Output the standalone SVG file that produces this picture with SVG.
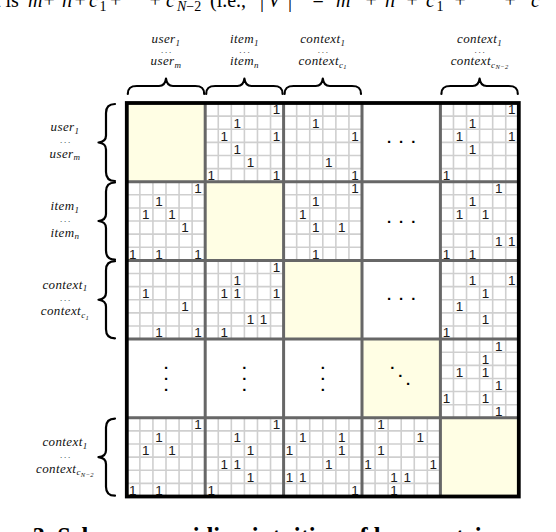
<svg xmlns="http://www.w3.org/2000/svg" xmlns:xlink="http://www.w3.org/1999/xlink" width="556" height="532" viewBox="0 0 556 532">
<style>
.lbl{font-family:"Liberation Serif",serif;font-style:italic;font-size:13px;fill:#111;text-anchor:middle;letter-spacing:0.4px}
.sub{font-size:9px}
.sub2{font-size:6.5px}
.ld{font-family:"Liberation Serif",serif;font-size:9px;fill:#222;text-anchor:middle;letter-spacing:1.8px}
.one{font-family:"Liberation Sans",Arial,sans-serif;font-size:13.5px;fill:#1a1a1a;text-anchor:middle}
.sg{fill:none;stroke:#cfcfcf;stroke-width:1.6}
.dv{stroke:#676767;stroke-width:3;fill:none}
.br{fill:none;stroke:#000;stroke-width:2.2;stroke-linecap:round;stroke-linejoin:round}
.diag{fill:#fffee4}
.el{font-family:"Liberation Sans",Arial,sans-serif;font-weight:bold;font-size:15px;fill:#000;text-anchor:middle}
.pg{font-family:"Liberation Serif",serif;font-size:20px;fill:#000}
.it{font-style:italic}
.cap{font-family:"Liberation Serif",serif;font-weight:bold;font-size:24.4px;fill:#000}
</style>
<defs>
<path id="sg" class="sg" d="M13.07 0V78.7M26.13 0V78.7M39.2 0V78.7M52.27 0V78.7M65.33 0V78.7M0 13.12H78.4M0 26.23H78.4M0 39.35H78.4M0 52.47H78.4M0 65.58H78.4"/>
</defs>
<rect width="556" height="532" fill="#fff"/>

<!-- page text fragments (cropped) -->
<text class="pg" y="7"><tspan x="-5">t is</tspan><tspan x="28" class="it">m</tspan><tspan x="43.4">+</tspan><tspan x="62" class="it">n</tspan><tspan x="74.4">+</tspan><tspan x="89" class="it">c</tspan><tspan x="99.5" dy="4" font-size="14">1</tspan><tspan x="109.9" dy="-4">+</tspan><tspan x="149.4">+</tspan><tspan x="166" class="it">c</tspan><tspan x="177" dy="4" font-size="14" class="it">N</tspan><tspan font-size="14">−2</tspan><tspan x="210" dy="-4">(i.e.,</tspan><tspan x="260">|</tspan><tspan x="268" class="it">V</tspan><tspan x="288">|</tspan><tspan x="312.4">=</tspan><tspan x="336" class="it">m</tspan><tspan x="365.4">+</tspan><tspan x="385" class="it">n</tspan><tspan x="406.4">+</tspan><tspan x="426" class="it">c</tspan><tspan x="436.5" dy="4" font-size="14">1</tspan><tspan x="454.4" dy="-4">+</tspan><tspan x="504.4">+</tspan><tspan x="531" class="it">c</tspan></text>
<text class="cap" x="-42" y="545">Figure 3. Schema providing intuition of how matrix</text>

<!-- column headers -->
<g id="hdr-user">
<text class="lbl" x="166" y="43">user<tspan class="sub" dy="2.5">1</tspan></text>
<text class="ld" x="167" y="53">...</text>
<text class="lbl" x="166" y="65">user<tspan class="sub" dy="2.5">m</tspan></text>
</g>
<g id="hdr-item">
<text class="lbl" x="244.4" y="43">item<tspan class="sub" dy="2.5">1</tspan></text>
<text class="ld" x="245.4" y="53">...</text>
<text class="lbl" x="244.4" y="65">item<tspan class="sub" dy="2.5">n</tspan></text>
</g>
<g id="hdr-ctx1">
<text class="lbl" x="322.8" y="43">context<tspan class="sub" dy="2.5">1</tspan></text>
<text class="ld" x="323.8" y="53">...</text>
<text class="lbl" x="322.8" y="65">context<tspan class="sub" dy="2.5">c</tspan><tspan class="sub2" dy="1.8">1</tspan></text>
</g>
<g id="hdr-ctxN">
<text class="lbl" x="479.6" y="43">context<tspan class="sub" dy="2.5">1</tspan></text>
<text class="ld" x="480.6" y="53">...</text>
<text class="lbl" x="479.6" y="65">context<tspan class="sub" dy="2.5">c</tspan><tspan class="sub2" dy="1.8">N−2</tspan></text>
</g>

<!-- row labels -->
<g id="row-user">
<text class="lbl" x="65" y="131.3">user<tspan class="sub" dy="2.5">1</tspan></text>
<text class="ld" x="66" y="143.3">...</text>
<text class="lbl" x="65" y="157.8">user<tspan class="sub" dy="2.5">m</tspan></text>
</g>
<g id="row-item">
<text class="lbl" x="65" y="210">item<tspan class="sub" dy="2.5">1</tspan></text>
<text class="ld" x="66" y="222">...</text>
<text class="lbl" x="65" y="236.5">item<tspan class="sub" dy="2.5">n</tspan></text>
</g>
<g id="row-ctx1">
<text class="lbl" x="65" y="288.7">context<tspan class="sub" dy="2.5">1</tspan></text>
<text class="ld" x="66" y="300.7">...</text>
<text class="lbl" x="65" y="315.2">context<tspan class="sub" dy="2.5">c</tspan><tspan class="sub2" dy="1.8">1</tspan></text>
</g>
<g id="row-ctxN">
<text class="lbl" x="65" y="446.1">context<tspan class="sub" dy="2.5">1</tspan></text>
<text class="ld" x="66" y="458.1">...</text>
<text class="lbl" x="65" y="472.6">context<tspan class="sub" dy="2.5">c</tspan><tspan class="sub2" dy="1.8">N−2</tspan></text>
</g>

<!-- braces -->
<g id="braces">
<path class="br" d="M127.8,94 C127.8,88 130.8,86 136.8,86 L159,86 C163,86 165.5,83 166,78.5 C166.5,83 169,86 173,86 L195.2,86 C201.2,86 204.2,88 204.2,94"/>
<path class="br" d="M206.2,94 C206.2,88 209.2,86 215.2,86 L237.4,86 C241.4,86 243.9,83 244.4,78.5 C244.9,83 247.4,86 251.4,86 L273.6,86 C279.6,86 282.6,88 282.6,94"/>
<path class="br" d="M284.6,94 C284.6,88 287.6,86 293.6,86 L315.8,86 C319.8,86 322.3,83 322.8,78.5 C323.3,83 325.8,86 329.8,86 L352,86 C358,86 361,88 361,94"/>
<path class="br" d="M441.4,94 C441.4,88 444.4,86 450.4,86 L472.6,86 C476.6,86 479.1,83 479.6,78.5 C480.1,83 482.6,86 486.6,86 L508.8,86 C514.8,86 517.8,88 517.8,94"/>
<path class="br" d="M115,104 C109,104 106,107 106,113 L106,135.5 C106,139.5 103,142 98.5,142.5 C103,143 106,145.5 106,149.5 L106,172 C106,178 109,181 115,181"/>
<path class="br" d="M115,182.5 C109,182.5 106,185.5 106,191.5 L106,214 C106,218 103,220.5 98.5,221 C103,221.5 106,224 106,228 L106,250.6 C106,256.6 109,259.6 115,259.6"/>
<path class="br" d="M115,261.2 C109,261.2 106,264.2 106,270.2 L106,292.75 C106,296.75 103,299.25 98.5,299.75 C103,300.25 106,302.75 106,306.75 L106,329.3 C106,335.3 109,338.3 115,338.3"/>
<path class="br" d="M115,418.6 C109,418.6 106,421.6 106,427.6 L106,450.15 C106,454.15 103,456.65 98.5,457.15 C103,457.65 106,460.15 106,464.15 L106,486.7 C106,492.7 109,495.7 115,495.7"/>
</g>

<!-- matrix background -->
<rect x="126.8" y="103" width="392" height="393.5" fill="#fff"/>

<!-- diagonal blocks -->
<g id="diag">
<rect class="diag" x="126.8" y="103" width="78.4" height="78.7"/>
<rect class="diag" x="205.2" y="181.7" width="78.4" height="78.7"/>
<rect class="diag" x="283.6" y="260.4" width="78.4" height="78.7"/>
<rect class="diag" x="362" y="339.1" width="78.4" height="78.7"/>
<rect class="diag" x="440.4" y="417.8" width="78.4" height="78.7"/>
</g>

<!-- sparse blocks -->
<g id="cell-r1c2" transform="translate(205.2,103)"><use xlink:href="#sg"/>
<text class="one" x="71.33" y="11.4">1</text><text class="one" x="32.13" y="24.52">1</text><text class="one" x="19.07 71.33" y="37.63">11</text><text class="one" x="32.13" y="50.75">1</text><text class="one" x="45.2" y="63.87">1</text><text class="one" x="6 71.33" y="76.99">11</text></g>
<g id="cell-r1c3" transform="translate(283.6,103)"><use xlink:href="#sg"/>
<text class="one" x="32.13" y="24.52">1</text><text class="one" x="71.33" y="37.63">1</text><text class="one" x="45.2" y="63.87">1</text><text class="one" x="71.33" y="76.99">1</text></g>
<g id="cell-r1c5" transform="translate(440.4,103)"><use xlink:href="#sg"/>
<text class="one" x="71.33" y="11.4">1</text><text class="one" x="32.13" y="24.52">1</text><text class="one" x="19.07 71.33" y="37.63">11</text><text class="one" x="32.13" y="50.75">1</text><text class="one" x="6" y="76.99">1</text></g>

<g id="cell-r2c1" transform="translate(126.8,181.7)"><use xlink:href="#sg"/>
<text class="one" x="71.33" y="11.4">1</text><text class="one" x="32.13" y="24.52">1</text><text class="one" x="19.07 45.2" y="37.63">11</text><text class="one" x="58.27" y="50.75">1</text><text class="one" x="6 32.13 71.33" y="76.99">111</text></g>
<g id="cell-r2c3" transform="translate(283.6,181.7)"><use xlink:href="#sg"/>
<text class="one" x="71.33" y="11.4">1</text><text class="one" x="32.13" y="24.52">1</text><text class="one" x="19.07" y="37.63">1</text><text class="one" x="32.13 58.27" y="50.75">11</text><text class="one" x="32.13" y="76.99">1</text></g>
<g id="cell-r2c5" transform="translate(440.4,181.7)"><use xlink:href="#sg"/>
<text class="one" x="58.27" y="11.4">1</text><text class="one" x="32.13" y="24.52">1</text><text class="one" x="19.07 45.2" y="37.63">11</text><text class="one" x="58.27 71.33" y="63.87">11</text><text class="one" x="6 32.13" y="76.99">11</text></g>

<g id="cell-r3c1" transform="translate(126.8,260.4)"><use xlink:href="#sg"/>
<text class="one" x="19.07" y="37.63">1</text><text class="one" x="58.27" y="50.75">1</text><text class="one" x="32.13 71.33" y="76.99">11</text></g>
<g id="cell-r3c2" transform="translate(205.2,260.4)"><use xlink:href="#sg"/>
<text class="one" x="71.33" y="11.4">1</text><text class="one" x="32.13" y="24.52">1</text><text class="one" x="19.07 32.13 71.33" y="37.63">111</text><text class="one" x="45.2 58.27" y="63.87">11</text><text class="one" x="19.07" y="76.99">1</text></g>
<g id="cell-r3c5" transform="translate(440.4,260.4)"><use xlink:href="#sg"/>
<text class="one" x="32.13 71.33" y="24.52">11</text><text class="one" x="45.2" y="37.63">1</text><text class="one" x="19.07" y="50.75">1</text><text class="one" x="45.2" y="63.87">1</text><text class="one" x="6" y="76.99">1</text></g>

<g id="cell-r4c5" transform="translate(440.4,339.1)"><use xlink:href="#sg"/>
<text class="one" x="58.27" y="11.4">1</text><text class="one" x="45.2" y="24.52">1</text><text class="one" x="19.07 45.2" y="37.63">11</text><text class="one" x="58.27" y="50.75">1</text><text class="one" x="6 45.2" y="63.87">11</text><text class="one" x="58.27" y="76.99">1</text></g>

<g id="cell-r5c1" transform="translate(126.8,417.8)"><use xlink:href="#sg"/>
<text class="one" x="71.33" y="11.4">1</text><text class="one" x="32.13" y="24.52">1</text><text class="one" x="19.07 45.2" y="37.63">11</text><text class="one" x="6 32.13" y="76.99">11</text></g>
<g id="cell-r5c2" transform="translate(205.2,417.8)"><use xlink:href="#sg"/>
<text class="one" x="71.33" y="11.4">1</text><text class="one" x="32.13" y="24.52">1</text><text class="one" x="45.2" y="37.63">1</text><text class="one" x="19.07 32.13" y="50.75">11</text><text class="one" x="45.2" y="63.87">1</text><text class="one" x="6" y="76.99">1</text></g>
<g id="cell-r5c3" transform="translate(283.6,417.8)"><use xlink:href="#sg"/>
<text class="one" x="19.07 58.27" y="24.52">11</text><text class="one" x="6 58.27" y="37.63">11</text><text class="one" x="45.2" y="50.75">1</text><text class="one" x="6 19.07" y="63.87">11</text><text class="one" x="71.33" y="76.99">1</text></g>
<g id="cell-r5c4" transform="translate(362,417.8)"><use xlink:href="#sg"/>
<text class="one" x="19.07" y="11.4">1</text><text class="one" x="58.27" y="24.52">1</text><text class="one" x="19.07" y="37.63">1</text><text class="one" x="6 71.33" y="50.75">11</text><text class="one" x="32.13 45.2" y="63.87">11</text><text class="one" x="32.13" y="76.99">1</text></g>

<!-- ellipsis blocks -->
<g id="cell-r1c4" transform="translate(362,103)"><text class="el" x="27 39.2 51.4" y="39.8">...</text></g>
<g id="cell-r2c4" transform="translate(362,181.7)"><text class="el" x="27 39.2 51.4" y="41">...</text></g>
<g id="cell-r3c4" transform="translate(362,260.4)"><text class="el" x="27 39.2 51.4" y="40">...</text></g>
<g id="cell-r4c1" transform="translate(126.8,339.1)"><text class="el" x="39.2 39.2 39.2" y="30.3 41.3 52">...</text></g>
<g id="cell-r4c2" transform="translate(205.2,339.1)"><text class="el" x="39.2 39.2 39.2" y="30.3 41.3 52">...</text></g>
<g id="cell-r4c3" transform="translate(283.6,339.1)"><text class="el" x="39.2 39.2 39.2" y="30.3 41.3 52">...</text></g>
<g id="cell-r4c4" transform="translate(362,339.1)"><text class="el" x="30.3 38.3 46" y="30.3 38 46">...</text></g>

<!-- block dividers and frame -->
<g id="connectors">
<path class="dv" d="M205.2 103V496.5M283.6 103V496.5M362 103V496.5M440.4 103V496.5M126.8 181.7H518.8M126.8 260.4H518.8M126.8 339.1H518.8M126.8 417.8H518.8"/>
<rect x="126.8" y="103" width="392" height="393.5" fill="none" stroke="#000" stroke-width="3.8"/>
</g>
</svg>
